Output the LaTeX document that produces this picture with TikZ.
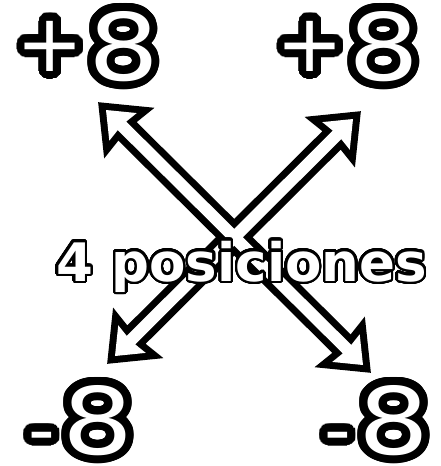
\documentclass[tikz,border=0pt]{standalone}
\usepackage{fontspec}
\usepackage{contour}
\usetikzlibrary{calc}

\newfontfamily\digitfont[FakeStretch=1.2]{DejaVu Sans}
\newfontfamily\signfont{DejaVu Sans}
\newfontfamily\wordfont{DejaVu Sans}
\contournumber{48}

% fat double-headed arrow between two named tips (inner white outline)
\def\hb{24pt}% barb distance from tip
\def\hn{22.5pt}% notch distance from tip
\def\hw{19.5pt}% barb half width
\def\sw{6pt}% shaft half width
\newcommand{\fatarrow}[2]{%
  (#1) -- ($(#1)!\hb!(#2)!\hw!90:(#2)$) -- ($(#1)!\hn!(#2)!\sw!90:(#2)$)
  -- ($(#2)!\hn!(#1)!\sw!-90:(#1)$) -- ($(#2)!\hb!(#1)!\hw!-90:(#1)$)
  -- (#2) -- ($(#2)!\hb!(#1)!\hw!90:(#1)$) -- ($(#2)!\hn!(#1)!\sw!90:(#1)$)
  -- ($(#1)!\hn!(#2)!\sw!-90:(#2)$) -- ($(#1)!\hb!(#2)!\hw!-90:(#2)$) -- cycle}

\begin{document}
\begin{tikzpicture}[x=1pt, y=-1pt,
    outline/.style={draw=black, line width=14pt, line join=miter},
    face/.style={fill=white},
    bignum/.style={text=white, inner sep=0pt, anchor=base},
    word/.style={text=white, inner sep=0pt, anchor=base west,
      font=\wordfont\bfseries\fontsize{53}{53}\selectfont}
  ]
  \useasboundingbox (0,0) rectangle (441,466);

  \coordinate (nw) at (106,110);
  \coordinate (se) at (363,365);
  \coordinate (ne) at (353,119);
  \coordinate (sw) at (115,356);

  % outlines first, white faces on top give one merged X
  \draw[outline] \fatarrow{nw}{se};
  \draw[outline] \fatarrow{ne}{sw};
  \fill[face] \fatarrow{nw}{se};
  \fill[face] \fatarrow{ne}{sw};

  \node[bignum] (plusl) at (88,80) {\contourlength{8pt}\contour{black}{%
    {\signfont\fontsize{80}{80}\selectfont\raisebox{9pt}{+}}\kern4pt%
    {\digitfont\fontsize{93}{93}\selectfont 8}}};
  \node[bignum] (plusr) at (348,80) {\contourlength{8pt}\contour{black}{%
    {\signfont\fontsize{80}{80}\selectfont\raisebox{9pt}{+}}\kern4pt%
    {\digitfont\fontsize{93}{93}\selectfont 8}}};
  \node[bignum] (minusl) at (81,454) {\contourlength{8pt}\contour{black}{%
    {\signfont\fontsize{74}{74}\selectfont\raisebox{-1pt}{-}}\kern7pt%
    {\digitfont\fontsize{93}{93}\selectfont 8}}};
  \node[bignum] (minusr) at (377,454) {\contourlength{8pt}\contour{black}{%
    {\signfont\fontsize{74}{74}\selectfont\raisebox{-1pt}{-}}\kern7pt%
    {\digitfont\fontsize{93}{93}\selectfont 8}}};

  \node[word] (caption) at (56,281) {\contourlength{2.5pt}\contour{black}{4 posiciones}};
\end{tikzpicture}
\end{document}
